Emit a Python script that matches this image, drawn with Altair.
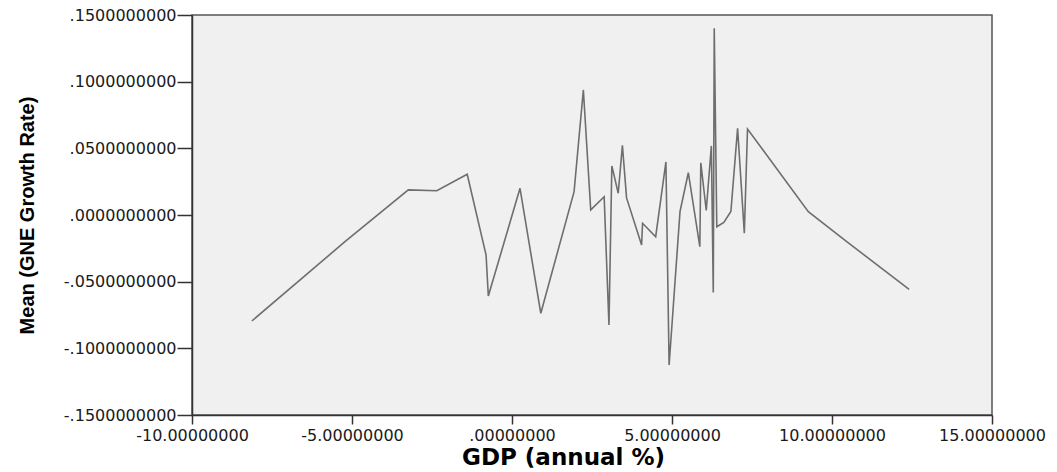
import altair as alt
import pandas as pd

# GDP (annual %) values
gdp = [-8.13, -5.22, -3.24, -2.35, -1.40, -0.81, -0.74, 0.25, 0.90, 1.94,
       2.23, 2.46, 2.88, 3.03, 3.12, 3.32, 3.45, 3.58, 4.05, 4.08,
       4.49, 4.81, 4.91, 5.25, 5.51, 5.87, 5.90, 6.07, 6.23, 6.29,
       6.32, 6.40, 6.62, 6.84, 7.05, 7.26, 7.36, 9.26, 10.46, 12.41]
# Mean (GNE Growth Rate) values
gne = [-0.0795, -0.0200, 0.0188, 0.0182, 0.0306, -0.0300, -0.0608, 0.0200, -0.0737, 0.0175,
       0.0938, 0.0038, 0.0137, -0.0825, 0.0368, 0.0163, 0.0523, 0.0128, -0.0225, -0.0062,
       -0.0163, 0.0398, -0.1125, 0.0025, 0.0317, -0.0238, 0.0392, 0.0034, 0.0518, -0.0581,
       0.1400, -0.0088, -0.0056, 0.0026, 0.0650, -0.0137, 0.0645, 0.0025, -0.0200, -0.0557]

x_ticks = [-10, -5, 0, 5, 10, 15]
y_ticks = [-0.15, -0.10, -0.05, 0.0, 0.05, 0.10, 0.15]

df = pd.DataFrame({"gdp": gdp, "gne": gne})

x_label = "replace(replace(format(datum.value, '.8f'), '\u2212', '-'), regexp('^(-?)0[.]'), '$1.')"
y_label = "replace(replace(format(datum.value, '.10f'), '\u2212', '-'), regexp('^(-?)0[.]'), '$1.')"

chart = alt.Chart(df).mark_line(color="#6e6e6e", strokeWidth=1.6).encode(
    x=alt.X("gdp:Q",
            scale=alt.Scale(domain=[-10, 15], nice=False, zero=False),
            axis=alt.Axis(values=x_ticks, title="GDP (annual %)", grid=False,
                          labelExpr=x_label, tickSize=9, labelPadding=3,
                          labelFont="DejaVu Sans", labelFontSize=16, labelColor="#1a1a1a",
                          titleFont="DejaVu Sans", titleFontSize=23, titleFontWeight="bold",
                          titleColor="#000000", titleX=371, titleY=49,
                          titleBaseline="alphabetic", titleAlign="center",
                          domainColor="#333333", domainWidth=1.5,
                          tickColor="#333333", tickWidth=1.5, labelFlush=False,
                          labelOverlap=False)),
    y=alt.Y("gne:Q",
            scale=alt.Scale(domain=[-0.15, 0.15], nice=False, zero=False),
            axis=alt.Axis(values=y_ticks, title="Mean (GNE Growth Rate)", grid=False,
                          labelExpr=y_label, tickSize=15, labelPadding=1,
                          labelFont="DejaVu Sans", labelFontSize=16, labelColor="#1a1a1a",
                          titleFont="Liberation Sans", titleFontSize=20,
                          titleFontWeight="bold", titleColor="#000000",
                          titleX=-165, titleY=200, titleAngle=-90,
                          titleBaseline="middle", titleAlign="center",
                          domainColor="#333333", domainWidth=1.5,
                          tickColor="#333333", tickWidth=1.5, labelOverlap=False)),
    order="gdp:Q",
).properties(
    width=800,
    height=400,
    autosize=alt.AutoSizeParams(type="none"),
    padding={"left": 184, "top": 7, "right": 57, "bottom": 57},
    background="#ffffff",
).configure_view(
    fill="#f0f0f0", stroke="#555555", strokeWidth=1.5
)

chart.save("out.html", embed_options={"renderer": "svg", "actions": False})
